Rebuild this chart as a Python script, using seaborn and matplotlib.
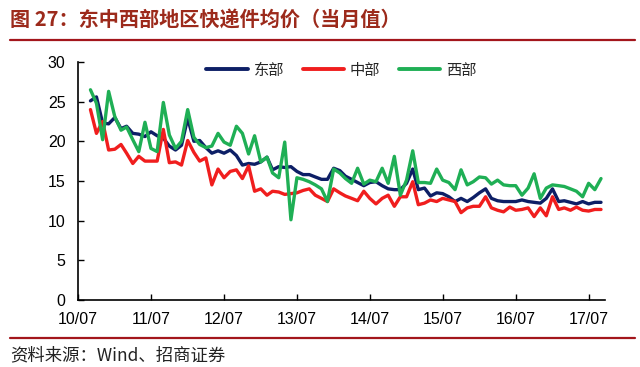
import pandas as pd
import numpy as np
import matplotlib
matplotlib.use("Agg")
import matplotlib.pyplot as plt
import matplotlib.dates as mdates
from matplotlib.lines import Line2D
import seaborn as sns

# ============================================================
# Data (monthly average express parcel price, yuan)
# ============================================================

months = pd.date_range("2010-09-01", "2017-09-01", freq="MS")

east = [25.1, 25.6, 22.3, 22.2, 23.0, 21.6, 21.9, 21.0, 20.9, 20.6,
        21.2, 20.7, 20.4, 19.4, 18.9, 19.5, 22.9, 20.0, 20.1, 19.2,
        18.5, 18.8, 18.5, 18.9, 18.2, 17.0, 17.2, 17.1, 17.4, 18.0,
        16.4, 16.8, 16.7, 16.8, 16.2, 15.8, 15.8, 15.5, 15.2, 15.2,
        16.6, 16.3, 15.6, 15.2, 14.8, 14.4, 14.8, 14.9, 14.4, 14.0,
        13.9, 13.9, 14.7, 16.5, 13.9, 14.1, 13.1, 13.5, 13.4, 13.0,
        12.4, 12.8, 12.4, 12.9, 13.5, 14.0, 12.8, 12.5, 12.4, 12.4,
        12.4, 12.6, 12.4, 12.3, 12.2, 12.8, 14.0, 12.4, 12.5, 12.3,
        12.1, 12.4, 12.1, 12.3, 12.3]

central = [24.0, 21.0, 22.5, 18.9, 19.0, 19.6, 18.5, 17.2, 18.1, 17.5,
           17.5, 17.5, 21.5, 17.3, 17.4, 17.0, 20.1, 18.6, 17.5, 17.9,
           14.5, 16.5, 15.4, 16.2, 16.4, 15.3, 16.9, 13.7, 14.0, 13.2,
           13.7, 13.6, 13.3, 13.4, 13.5, 13.8, 14.0, 13.2, 12.8, 12.4,
           14.0, 13.5, 13.1, 12.8, 12.5, 13.7, 12.8, 12.1, 12.8, 13.2,
           11.8, 13.0, 13.0, 14.9, 12.0, 12.2, 12.6, 12.4, 12.8, 12.6,
           12.4, 11.0, 11.6, 11.8, 11.8, 13.0, 11.6, 11.3, 11.1, 11.7,
           11.3, 11.4, 11.6, 10.5, 11.6, 10.6, 13.0, 11.4, 11.6, 11.3,
           11.7, 11.3, 11.2, 11.4, 11.4]

west = [26.5, 24.8, 20.2, 26.3, 23.1, 21.4, 21.8, 20.2, 18.7, 22.4,
        19.1, 18.7, 24.9, 20.8, 19.1, 20.0, 24.0, 20.5, 19.6, 19.2,
        19.4, 21.0, 19.9, 19.5, 21.9, 21.0, 18.4, 20.7, 17.4, 18.0,
        16.0, 15.4, 19.9, 10.1, 15.4, 15.2, 14.9, 14.5, 14.0, 12.4,
        16.5, 16.0, 15.3, 14.7, 16.6, 14.6, 15.1, 14.9, 16.6, 14.7,
        18.1, 13.2, 15.1, 18.8, 14.8, 14.8, 14.7, 16.5, 15.1, 14.8,
        13.9, 16.4, 14.5, 14.9, 15.5, 15.4, 14.6, 15.1, 14.5, 14.4,
        14.4, 13.2, 14.1, 15.9, 12.8, 14.1, 14.5, 14.4, 14.3, 14.0,
        13.7, 13.0, 14.7, 13.9, 15.3]

series_names = ["东部", "中部", "西部"]
colors = {"东部": "#0D1F66", "中部": "#F01E1E", "西部": "#1FAF55"}

df = pd.DataFrame({"month": months, "东部": east, "中部": central, "西部": west})
long_df = df.melt(id_vars="month", var_name="region", value_name="price")

# ============================================================
# Figure
# ============================================================

sns.set_style("ticks")
plt.rcParams["font.family"] = ["Liberation Sans", "Noto Sans CJK SC", "DejaVu Sans"]

fig = plt.figure(figsize=(6.4, 3.67), dpi=100)
ax = fig.add_axes([0.122, 0.183, 0.823, 0.648])

sns.lineplot(data=long_df, x="month", y="price", hue="region",
             hue_order=series_names, palette=colors, linewidth=2.4,
             legend=False, ax=ax)

ax.set_ylim(0, 30)
ax.set_yticks(range(0, 31, 5))
ax.set_xlim(pd.Timestamp("2010-07-01"), pd.Timestamp("2017-09-20"))
ax.xaxis.set_major_locator(mdates.MonthLocator(bymonth=7))
ax.xaxis.set_major_formatter(mdates.DateFormatter("%y/%m"))
ax.set_xlabel("")
ax.set_ylabel("")
ax.tick_params(axis="both", direction="in", length=4, width=1,
               labelsize=11.5, colors="black")
ax.tick_params(axis="y", pad=9)
ax.tick_params(axis="x", pad=9)
for side in ["top", "right"]:
    ax.spines[side].set_visible(False)
for side in ["left", "bottom"]:
    ax.spines[side].set_color("black")
    ax.spines[side].set_linewidth(1.2)

handles = [Line2D([0], [0], color=colors[n], linewidth=2.8) for n in series_names]
ax.legend(handles, series_names, loc="upper center", bbox_to_anchor=(0.5, 1.06),
          ncol=3, frameon=False, handlelength=2.7, handletextpad=0.4,
          columnspacing=1.2,
          prop={"family": ["Noto Sans CJK SC"], "size": 11})

# title and source with the red rules
fig.text(0.016, 0.945, "图 27：东中西部地区快递件均价（当月值）",
         fontsize=14.5, fontweight="bold", color="#9C2A1B",
         family=["Noto Sans CJK SC", "DejaVu Sans"], va="center")
fig.add_artist(Line2D([0.016, 0.992], [0.892, 0.892], color="#A3161C",
                      linewidth=1.6, transform=fig.transFigure))
fig.add_artist(Line2D([0.016, 0.992], [0.078, 0.078], color="#A3161C",
                      linewidth=1.6, transform=fig.transFigure))
fig.text(0.016, 0.032, "资料来源：Wind、招商证券", fontsize=12.5,
         color="#222222", family=["Noto Sans CJK SC", "DejaVu Sans"], va="center")

plt.savefig("out.png", dpi=100)
plt.close()
